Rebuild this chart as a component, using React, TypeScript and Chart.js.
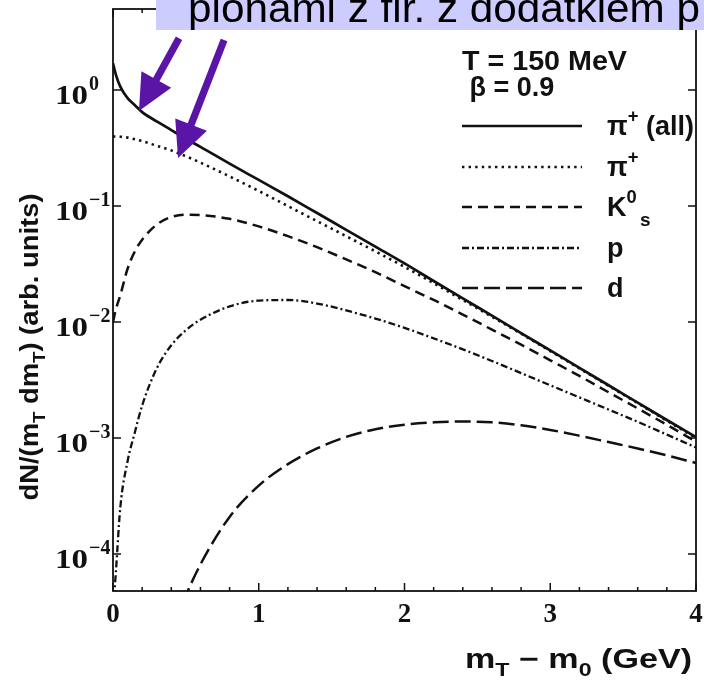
import React, { useEffect, useRef } from 'react';
import { Chart, registerables } from 'chart.js';
Chart.register(...registerables);

// ---------- data ----------
const mT = [0, 0.02, 0.05, 0.1, 0.15, 0.2, 0.3, 0.4, 0.5, 0.6, 0.8, 1.0, 1.2, 1.4, 1.6, 1.8, 2.0, 2.2, 2.4, 2.6, 2.8, 3.0, 3.2, 3.4, 3.6, 3.8, 4.0];
const piAll = [1.7, 1.35, 1.07, 0.851, 0.741, 0.646, 0.537, 0.452, 0.38, 0.324, 0.232, 0.168, 0.1216, 0.0871, 0.0624, 0.0447, 0.032, 0.0226, 0.016, 0.01135, 0.00804, 0.00569, 0.00403, 0.00285, 0.00202, 0.00143, 0.00102];
const piDirect = [0.398, 0.398, 0.396, 0.389, 0.376, 0.363, 0.331, 0.302, 0.269, 0.237, 0.18, 0.135, 0.1, 0.0741, 0.055, 0.0407, 0.0299, 0.0216, 0.0155, 0.0111, 0.00794, 0.00562, 0.00398, 0.00282, 0.002, 0.00141, 0.001];
const k0s = [0.01, 0.0129, 0.017, 0.0288, 0.0407, 0.0513, 0.0692, 0.0804, 0.0841, 0.0836, 0.0776, 0.0668, 0.055, 0.0442, 0.0347, 0.0269, 0.0204, 0.0155, 0.0116, 0.00861, 0.00638, 0.00468, 0.00343, 0.00248, 0.0018, 0.0013, 0.00093];
const proton = [3.16e-5, 7.08e-5, 2.51e-4, 6.31e-4, 1.12e-3, 1.91e-3, 3.98e-3, 6.31e-3, 8.51e-3, 0.01047, 0.01365, 0.01531, 0.01549, 0.01445, 0.01259, 0.01072, 0.00891, 0.00724, 0.00582, 0.00462, 0.00363, 0.00285, 0.00224, 0.00176, 0.00138, 0.00107, 0.00083];
const deuteron = [null, null, null, null, null, null, 7.1e-6, 2.0e-5, 4.37e-5, 8.13e-5, 2.09e-4, 3.89e-4, 5.96e-4, 8.13e-4, 1.023e-3, 1.189e-3, 1.303e-3, 1.365e-3, 1.387e-3, 1.365e-3, 1.288e-3, 1.175e-3, 1.047e-3, 9.23e-4, 8.13e-4, 7.08e-4, 6.1e-4];

const seriesNames = ['π+ (all)', 'π+', 'K0s', 'p', 'd'];
const xTickLabels = ['0', '1', '2', '3', '4'];
const yTickExponents = [0, -1, -2, -3, -4];
const headerLines = ['T = 150 MeV', ' β = 0.9'];
const bannerText = 'pionami z fir. z dodatkiem p';
// arrow annotations in data units
const arrowTails = [[0.453, 2.8], [0.762, 2.7]];
const arrowTips = [[0.178, 0.66], [0.446, 0.259]];

type Seg = { t: string; k?: 'sup' | 'sub' };

function drawRich(
  ctx: CanvasRenderingContext2D,
  segs: Seg[],
  x: number,
  y: number,
  size: number,
  family: string,
  weight: string,
  align: 'left' | 'center' | 'right',
  fitWidth?: number,
  smallRatio = 0.68,
  supRaise = 0.5,
  subDrop = 0.28
) {
  const small = size * smallRatio;
  const widths = segs.map((s) => {
    ctx.font = `${weight} ${s.k ? small : size}px ${family}`;
    return ctx.measureText(s.t).width;
  });
  const W = widths.reduce((a, b) => a + b, 0);
  const sx = fitWidth ? fitWidth / W : 1;
  ctx.save();
  ctx.translate(x, y);
  ctx.scale(sx, 1);
  let cx = align === 'left' ? 0 : align === 'center' ? -W / 2 : -W;
  ctx.textBaseline = 'alphabetic';
  ctx.textAlign = 'left';
  segs.forEach((s, i) => {
    ctx.font = `${weight} ${s.k ? small : size}px ${family}`;
    const dy = s.k === 'sup' ? -size * supRaise : s.k === 'sub' ? size * subDrop : 0;
    ctx.fillText(s.t, cx, dy);
    cx += widths[i];
  });
  ctx.restore();
}

const legendSegs: Seg[][] = [
  [{ t: 'π' }, { t: '+', k: 'sup' }, { t: ' (all)' }],
  [{ t: 'π' }, { t: '+', k: 'sup' }],
  [{ t: 'K' }, { t: '0', k: 'sup' }],
  [{ t: 'p' }],
  [{ t: 'd' }],
];

const overlayPlugin = {
  id: 'paperOverlay',
  afterDatasetsDraw(chart: any) {
    const { ctx, chartArea: a, scales } = chart;
    const xs = scales.x;
    const ys = scales.y;
    const ink = '#111';
    ctx.save();
    ctx.fillStyle = ink;
    ctx.strokeStyle = ink;

    // frame
    ctx.lineWidth = 1.8;
    ctx.strokeRect(a.left, a.top, a.right - a.left, a.bottom - a.top);

    // x ticks (inward, bottom and top)
    ctx.lineWidth = 1.5;
    for (let i = 0; i <= 20; i++) {
      const v = i * 0.2;
      const px = xs.getPixelForValue(v);
      const len = i % 5 === 0 ? 8 : 4;
      ctx.beginPath();
      ctx.moveTo(px, a.bottom);
      ctx.lineTo(px, a.bottom - len);
      ctx.moveTo(px, a.top);
      ctx.lineTo(px, a.top + len);
      ctx.stroke();
    }
    // y ticks (inward, left and right)
    yTickExponents.forEach((e) => {
      const py = ys.getPixelForValue(Math.pow(10, e));
      ctx.beginPath();
      ctx.moveTo(a.left, py);
      ctx.lineTo(a.left + 8, py);
      ctx.moveTo(a.right, py);
      ctx.lineTo(a.right - 8, py);
      ctx.stroke();
    });

    const serif = '"Liberation Serif", "DejaVu Serif", serif';
    const sans = '"Liberation Sans", Arial, sans-serif';

    // x tick labels
    xTickLabels.forEach((lab) => {
      const px = xs.getPixelForValue(Number(lab));
      drawRich(ctx, [{ t: lab }], px, a.bottom + 31, 27, serif, 'bold', 'center');
    });
    // y tick labels
    yTickExponents.forEach((e) => {
      const py = ys.getPixelForValue(Math.pow(10, e));
      const expText = e === 0 ? '0' : '\u2212' + String(-e);
      drawRich(ctx, [{ t: '10' }], 55, py + 14, 28, serif, 'bold', 'left', 33);
      ctx.font = `bold 20px ${serif}`;
      ctx.textAlign = 'left';
      ctx.textBaseline = 'alphabetic';
      ctx.fillText(expText, 89, py);
    });

    // axis titles
    drawRich(
      ctx,
      [{ t: 'm' }, { t: 'T', k: 'sub' }, { t: ' \u2212 m' }, { t: '0', k: 'sub' }, { t: ' (GeV)' }],
      692,
      668,
      27,
      sans,
      'bold',
      'right',
      227
    );
    ctx.save();
    ctx.translate(38, 347);
    ctx.rotate(-Math.PI / 2);
    drawRich(
      ctx,
      [{ t: 'dN/(m' }, { t: 'T', k: 'sub' }, { t: ' dm' }, { t: 'T', k: 'sub' }, { t: ') (arb. units)' }],
      0,
      0,
      25,
      sans,
      'bold',
      'center',
      307
    );
    ctx.restore();

    // header text
    drawRich(ctx, [{ t: headerLines[0] }], 462, 70, 27, sans, 'bold', 'left', 165);
    drawRich(ctx, [{ t: headerLines[1] }], 462, 96, 27, sans, 'bold', 'left');

    // legend
    const lineYs = [126, 167, 207, 248, 288];
    chart.data.datasets.forEach((ds: any, i: number) => {
      const y = lineYs[i];
      ctx.save();
      ctx.strokeStyle = ds.borderColor;
      ctx.lineWidth = ds.borderWidth;
      ctx.setLineDash(ds.borderDash || []);
      ctx.beginPath();
      ctx.moveTo(462, y);
      ctx.lineTo(582, y);
      ctx.stroke();
      ctx.restore();
      drawRich(ctx, legendSegs[i], 607, y + 9, 27, sans, 'bold', 'left');
      if (i === 2) {
        ctx.font = `bold 19px ${sans}`;
        ctx.fillText('s', 640, y + 19);
      }
    });

    // banner box (slide overlay)
    ctx.fillStyle = '#ccccff';
    ctx.fillRect(156, 0, 704 - 156, 30);
    ctx.fillStyle = '#000';
    drawRich(ctx, [{ t: bannerText }], 188, 22, 40, sans, 'normal', 'left', 512);

    // arrows
    ctx.fillStyle = '#5a14a6';
    arrowTips.forEach((tip, i) => {
      const tail = arrowTails[i];
      const x0 = xs.getPixelForValue(tail[0]);
      const y0 = ys.getPixelForValue(tail[1]);
      const x1 = xs.getPixelForValue(tip[0]);
      const y1 = ys.getPixelForValue(tip[1]);
      const dx = x1 - x0;
      const dy = y1 - y0;
      const L = Math.hypot(dx, dy);
      const ux = dx / L;
      const uy = dy / L;
      const nx = -uy;
      const ny = ux;
      const headL = 36;
      const headW = 17;
      const shaftW = 3.6;
      const bx = x1 - ux * headL;
      const by = y1 - uy * headL;
      ctx.beginPath();
      ctx.moveTo(x0 + nx * shaftW, y0 + ny * shaftW);
      ctx.lineTo(bx + nx * shaftW, by + ny * shaftW);
      ctx.lineTo(bx + nx * headW, by + ny * headW);
      ctx.lineTo(x1, y1);
      ctx.lineTo(bx - nx * headW, by - ny * headW);
      ctx.lineTo(bx - nx * shaftW, by - ny * shaftW);
      ctx.lineTo(x0 - nx * shaftW, y0 - ny * shaftW);
      ctx.closePath();
      ctx.fill();
    });

    ctx.restore();
  },
};

function toPoints(vals: (number | null)[]) {
  return mT.map((x, i) => ({ x, y: vals[i] }));
}

export default function App() {
  const ref = useRef<HTMLCanvasElement | null>(null);
  useEffect(() => {
    if (!ref.current) return;
    const common = { pointRadius: 0, fill: false, cubicInterpolationMode: 'monotone', spanGaps: false, borderColor: '#111' };
    const chart = new Chart(ref.current, {
      type: 'line',
      data: {
        datasets: [
          { ...common, label: seriesNames[0], data: toPoints(piAll), borderWidth: 2.7, borderDash: [] },
          { ...common, label: seriesNames[1], data: toPoints(piDirect), borderWidth: 2.6, borderDash: [2.4, 4.2] },
          { ...common, label: seriesNames[2], data: toPoints(k0s), borderWidth: 2.5, borderDash: [10, 6] },
          { ...common, label: seriesNames[3], data: toPoints(proton), borderWidth: 2.3, borderDash: [7, 3, 2, 3] },
          { ...common, label: seriesNames[4], data: toPoints(deuteron), borderWidth: 2.5, borderDash: [16, 6] },
        ] as any,
      },
      options: {
        responsive: false,
        animation: false,
        devicePixelRatio: 1,
        layout: { padding: { left: 113, right: 8, top: 9, bottom: 89 } },
        plugins: { legend: { display: false }, tooltip: { enabled: false } },
        scales: {
          x: { type: 'linear', min: 0, max: 4, display: false },
          y: { type: 'logarithmic', min: 4.8e-5, max: 5, display: false },
        },
      } as any,
      plugins: [overlayPlugin],
    });
    return () => chart.destroy();
  }, []);
  return (
    <div style={{ position: 'absolute', left: 0, top: 0, width: 704, height: 680, background: '#fff' }}>
      <canvas ref={ref} width={704} height={680} style={{ display: 'block' }} />
    </div>
  );
}
